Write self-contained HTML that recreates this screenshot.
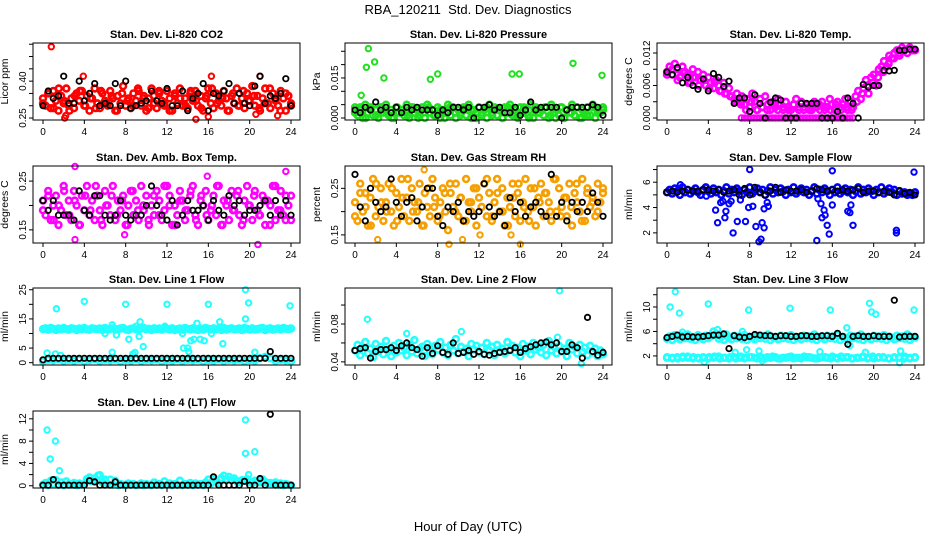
<!DOCTYPE html>
<html><head><meta charset="utf-8"><style>
html,body{margin:0;padding:0;background:#fff;}
svg{display:block;font-family:"Liberation Sans",Arial,sans-serif;}
</style></head><body>
<svg id="chart" width="936" height="540" viewBox="0 0 936 540" xmlns="http://www.w3.org/2000/svg">
<rect x="0" y="0" width="936" height="540" fill="#fff"/>
<text x="468" y="14" text-anchor="middle" font-size="13" xml:space="preserve">RBA_120211  Std. Dev. Diagnostics</text>
<text x="468" y="531" text-anchor="middle" font-size="13">Hour of Day (UTC)</text>
</svg>
<script>
const xTicks = [0,4,8,12,16,20,24];

const co2Cloud = [0.33,0.30,0.35,0.29,0.36,0.32,0.28,0.34,0.31,0.37,0.30,0.33,0.29,0.35,0.32,0.36,0.30,0.34,0.28,0.33,0.37,0.31,0.29,0.35,0.32,0.30,0.36,0.33,0.28,0.34,0.31,0.38,0.30,0.33,0.29,0.35,0.32,0.36,0.30,0.34,0.28,0.33,0.37,0.31,0.29,0.35,0.32,0.30,0.36,0.33,0.28,0.34,0.31,0.37,0.30,0.33,0.29,0.35,0.32,0.36,0.30,0.34,0.28,0.33,0.37,0.31,0.29,0.35,0.32,0.30,0.36,0.33,0.28,0.34,0.31,0.37,0.30,0.33,0.29,0.35,0.32,0.38,0.30,0.34,0.28,0.33,0.37,0.31,0.29,0.35,0.32,0.30,0.36,0.33,0.28,0.34,0.31];
const co2Cloud2 = [0.31,0.35,0.29,0.37,0.32,0.28,0.34,0.36,0.30,0.33,0.29,0.36,0.31,0.34,0.28,0.35,0.32,0.30,0.37,0.33,0.29,0.34,0.36,0.31,0.28,0.35,0.33,0.30,0.36,0.32,0.29,0.34,0.37,0.31,0.33,0.28,0.35,0.30,0.36,0.32,0.34,0.29,0.31,0.37,0.33,0.28,0.35,0.30];
const co2Out = [[0.8,0.54],[2.1,0.25],[2.2,0.26],[14.8,0.245],[16,0.255],[20.6,0.265],[22.7,0.26],[3.9,0.42],[16.3,0.42],[21,0.42]];
const co2Black = [0.30,0.36,0.33,0.34,0.42,0.31,0.31,0.40,0.32,0.35,0.39,0.30,0.31,0.30,0.39,0.30,0.40,0.29,0.30,0.31,0.32,0.36,0.32,0.31,0.37,0.30,0.30,0.36,0.28,0.33,0.35,0.39,0.28,0.35,0.34,0.36,0.39,0.31,0.35,0.31,0.30,0.38,0.42,0.31,0.34,0.33,0.35,0.41,0.30];

const presCloud = [0.004,0.001,0.003,0.000,0.005,0.002,0.004,0.001,0.003,0.000,0.004,0.002,0.005,0.001,0.003,0.000,0.004,0.002,0.003,0.001,0.005,0.000,0.004,0.002,0.003,0.001,0.004,0.000,0.005,0.002,0.003,0.001,0.004,0.000,0.003,0.002,0.005,0.001,0.004,0.000,0.003,0.002,0.004,0.001,0.005,0.000,0.003,0.002,0.004,0.001,0.003,0.000,0.005,0.002,0.004,0.001,0.003,0.000,0.004,0.002,0.005,0.001,0.003,0.000,0.004,0.002,0.003,0.001,0.005,0.000,0.004,0.002,0.003,0.001,0.004,0.000,0.005,0.002,0.003,0.001,0.004,0.000,0.003,0.002,0.005,0.001,0.004,0.000,0.003,0.002,0.004,0.001,0.005,0.000,0.003,0.002,0.004];
const presCloud2 = [0.002,0.004,0.000,0.003,0.001,0.004,0.002,0.000,0.004,0.003,0.001,0.004,0.000,0.002,0.004,0.001,0.003,0.000,0.004,0.002,0.001,0.004,0.003,0.000,0.002,0.004,0.001,0.003,0.000,0.004,0.002,0.001,0.004,0.000,0.003,0.002,0.004,0.001,0.000,0.004,0.003,0.002,0.004,0.000,0.001,0.004,0.002,0.003];
const presOut = [[1.1,0.019],[1.3,0.026],[1.9,0.021],[2.8,0.015],[0.6,0.0085],[7.3,0.0145],[8.0,0.0165],[15.2,0.0165],[15.9,0.0165],[21.1,0.0205],[23.9,0.016]];
const presBlack = [0.003,0.002,0.004,0.003,0.006,0.003,0.004,0.002,0.004,0.002,0.004,0.003,0.004,0.003,0.003,0.003,0.001,0.003,0.002,0.004,0.004,0.003,0.004,0.000,0.004,0.004,0.005,0.003,0.004,0.002,0.002,0.004,0.001,0.003,0.006,0.003,0.004,0.004,0.004,0.004,0.000,0.003,0.004,0.004,0.004,0.004,0.005,0.004,0.001];

const tempCloud = [0.0085,0.0095,0.0080,0.0100,0.0090,0.0075,0.0095,0.0085,0.0080,0.0065,0.0090,0.0075,0.0085,0.0070,0.0080,0.0060,0.0075,0.0065,0.0055,0.0070,0.0060,0.0050,0.0065,0.0045,0.0055,0.0040,0.0035,0.0045,0.0030,0.0040,0.0025,0.0035,0.0020,0.0045,0.0030,0.0015,0.0035,0.0020,0.0040,0.0025,0.0015,0.0030,0.0020,0.0035,0.0025,0.0015,0.0030,0.0020,0.0015,0.0025,0.0035,0.0020,0.0030,0.0015,0.0025,0.0020,0.0015,0.0030,0.0020,0.0025,0.0030,0.0015,0.0020,0.0035,0.0025,0.0015,0.0030,0.0020,0.0025,0.0035,0.0015,0.0030,0.0020,0.0040,0.0050,0.0035,0.0055,0.0070,0.0045,0.0075,0.0080,0.0060,0.0090,0.0095,0.0105,0.0095,0.0115,0.0110,0.0120,0.0125,0.0115,0.0130,0.0125,0.0120,0.0130,0.0125,0.0125];
const tempCloud2 = [0.0080,0.0090,0.0070,0.0085,0.0065,0.0075,0.0060,0.0070,0.0055,0.0065,0.0050,0.0045,0.0040,0.0030,0.0025,0.0015,0.0030,0.0015,0.0020,0.0015,0.0025,0.0015,0.0020,0.0015,0.0025,0.0015,0.0020,0.0015,0.0025,0.0015,0.0020,0.0015,0.0025,0.0015,0.0020,0.0015,0.0030,0.0045,0.0060,0.0065,0.0075,0.0085,0.0100,0.0110,0.0120,0.0125,0.0130,0.0125];
const tempZeroHours = [7.2,7.5,7.8,8.1,8.4,8.7,9.0,9.3,9.6,9.9,10.2,10.5,10.8,11.1,11.4,11.7,12.0,12.3,12.6,12.9,13.2,13.5,13.8,14.1,14.4,14.7,15.0,15.3,15.6,15.9,16.2,16.5,16.8,17.1,17.4,17.7,18.0];
const tempBlack = [0.0085,0.0080,0.0093,0.0065,0.0075,0.0060,0.0053,0.0072,0.0050,0.0082,0.0075,0.0058,0.0068,0.0027,0.0037,0.0037,0.0012,0.0043,0.0027,0.0000,0.0029,0.0037,0.0033,0.0000,0.0000,0.0000,0.0027,0.0027,0.0027,0.0027,0.0000,0.0000,0.0000,0.0012,0.0000,0.0037,0.0027,0.0000,0.0062,0.0057,0.0060,0.0060,0.0088,0.0087,0.0088,0.0125,0.0125,0.0127,0.0127];

const ambCloud = [0.21,0.18,0.23,0.17,0.20,0.22,0.16,0.19,0.24,0.18,0.21,0.17,0.23,0.20,0.16,0.22,0.19,0.24,0.18,0.21,0.17,0.22,0.19,0.16,0.23,0.20,0.18,0.24,0.17,0.21,0.19,0.22,0.16,0.20,0.23,0.18,0.21,0.17,0.24,0.19,0.22,0.16,0.20,0.18,0.23,0.21,0.17,0.19,0.24,0.22,0.16,0.20,0.18,0.23,0.21,0.17,0.19,0.22,0.24,0.18,0.16,0.21,0.20,0.23,0.17,0.19,0.22,0.18,0.24,0.16,0.21,0.20,0.17,0.23,0.19,0.22,0.18,0.16,0.21,0.24,0.20,0.17,0.23,0.19,0.18,0.22,0.16,0.21,0.20,0.24,0.17,0.19,0.23,0.18,0.22,0.20,0.17];
const ambCloud2 = [0.19,0.22,0.17,0.20,0.23,0.18,0.21,0.16,0.22,0.19,0.24,0.17,0.20,0.22,0.18,0.21,0.16,0.23,0.19,0.20,0.17,0.22,0.18,0.24,0.20,0.16,0.21,0.19,0.23,0.17,0.22,0.18,0.20,0.24,0.16,0.21,0.19,0.23,0.17,0.20,0.22,0.18,0.21,0.16,0.24,0.19,0.17,0.22];
const ambOut = [[3.1,0.28],[3.1,0.13],[7.9,0.14],[20.8,0.12],[23.5,0.27],[15.9,0.26]];
const ambBlack = [0.21,0.19,0.21,0.18,0.18,0.18,0.17,0.23,0.19,0.18,0.22,0.22,0.18,0.17,0.18,0.21,0.18,0.17,0.18,0.18,0.20,0.24,0.20,0.18,0.17,0.21,0.16,0.18,0.21,0.19,0.19,0.20,0.17,0.21,0.19,0.18,0.22,0.20,0.21,0.18,0.19,0.19,0.20,0.21,0.18,0.21,0.18,0.21,0.18];

const rhCloud = [0.22,0.18,0.26,0.20,0.24,0.17,0.23,0.27,0.19,0.21,0.25,0.18,0.22,0.26,0.20,0.17,0.24,0.21,0.27,0.19,0.23,0.18,0.25,0.22,0.20,0.26,0.17,0.24,0.21,0.19,0.27,0.23,0.18,0.22,0.25,0.20,0.16,0.24,0.21,0.26,0.19,0.23,0.18,0.27,0.22,0.20,0.25,0.17,0.23,0.21,0.26,0.19,0.24,0.18,0.22,0.27,0.20,0.25,0.17,0.23,0.21,0.26,0.19,0.24,0.18,0.22,0.27,0.20,0.25,0.21,0.17,0.23,0.26,0.19,0.24,0.22,0.18,0.27,0.20,0.25,0.21,0.23,0.19,0.26,0.17,0.24,0.22,0.20,0.27,0.18,0.25,0.21,0.23,0.19,0.26,0.22,0.24];
const rhCloud2 = [0.19,0.24,0.21,0.17,0.26,0.22,0.20,0.25,0.18,0.23,0.27,0.20,0.22,0.17,0.25,0.21,0.19,0.24,0.26,0.20,0.23,0.18,0.22,0.25,0.21,0.27,0.19,0.24,0.20,0.17,0.23,0.26,0.21,0.18,0.25,0.22,0.24,0.20,0.27,0.19,0.23,0.21,0.26,0.18,0.24,0.22,0.20,0.25];
const rhOut = [[6.7,0.29],[9.1,0.13],[10.4,0.14],[16,0.13],[2.2,0.14],[12.1,0.15],[15.1,0.15]];
const rhBlack = [0.28,0.21,0.18,0.25,0.22,0.20,0.21,0.27,0.22,0.19,0.22,0.23,0.18,0.21,0.25,0.25,0.19,0.17,0.21,0.20,0.22,0.18,0.20,0.19,0.20,0.26,0.21,0.19,0.20,0.17,0.23,0.20,0.22,0.19,0.21,0.22,0.20,0.19,0.28,0.19,0.22,0.18,0.22,0.20,0.22,0.20,0.24,0.22,0.19];

const flowCloud = [5.2,5.4,5.1,5.5,5.3,5.0,5.6,5.2,5.4,5.1,5.3,5.5,5.2,5.0,5.4,5.6,5.3,5.1,5.5,5.2,5.4,5.0,5.3,5.6,5.1,5.4,5.2,5.5,5.3,5.0,5.4,5.2,5.6,5.1,5.3,5.5,5.2,5.4,5.0,5.3,5.6,5.1,5.4,5.2,5.5,5.3,5.0,5.4,5.2,5.6,5.1,5.3,5.5,5.2,5.4,5.0,5.3,5.6,5.1,5.4,5.2,5.5,5.3,5.0,5.4,5.2,5.6,5.1,5.3,5.5,5.2,5.4,5.0,5.3,5.6,5.1,5.4,5.2,5.5,5.3,5.0,5.4,5.2,5.6,5.1,5.3,5.5,5.2,5.4,5.0,5.3,5.1,5.2,5.0,5.1,5.0,5.2];
const flowOut = [[4.7,3.8],[4.9,2.8],[5.2,4.4],[5.4,4.5],[5.7,3.7],[5.6,3.2],[6.0,4.3],[6.2,4.5],[6.4,2.0],[6.8,2.9],[7.1,4.6],[7.6,2.9],[7.9,4.0],[8.0,7.0],[8.3,4.1],[8.6,2.5],[8.9,1.3],[9.1,1.5],[9.2,2.8],[9.4,3.9],[9.4,2.4],[9.7,4.4],[9.8,4.1],[14.6,4.7],[14.5,1.4],[14.9,4.3],[15.0,3.2],[15.2,3.8],[15.3,3.4],[15.5,2.6],[15.7,1.9],[16.0,4.2],[16.0,6.9],[17.5,3.7],[17.7,3.6],[17.8,4.2],[18.0,2.6],[22.2,2.2],[22.2,2.0],[23.9,6.8],[1.3,5.8],[3.8,4.9]];
const flowBlack = [5.2,5.3,5.2,5.3,5.4,5.3,5.3,5.4,5.4,5.3,5.4,5.2,5.3,5.4,5.0,5.5,5.0,5.6,5.2,5.0,5.3,5.6,5.2,5.4,5.3,5.3,5.4,5.2,5.3,5.5,5.4,5.3,5.4,5.3,5.4,5.3,5.4,5.5,5.2,5.3,5.3,5.2,5.3,5.2,5.0,5.3,5.1,5.2,5.0];

const l1Cloud = [11.5,11.8,11.3,11.9,11.6,11.2,11.7,11.4,11.9,11.5,11.3,11.8,11.6,11.2,11.7,11.5,11.9,11.4,11.3,11.8,11.6,11.5,11.7,11.2,11.9,11.4,11.6,11.8,11.3,11.5,11.7,11.9,11.4,11.2,11.6,11.8,11.5,11.3,11.7,11.9,11.4,11.6,11.2,11.8,11.5,11.7,11.3,11.9,11.6,11.4,11.8,11.2,11.5,11.7,11.3,11.9,11.6,11.4,11.8,11.5,11.2,11.7,11.3,11.9,11.6,11.4,11.8,11.5,11.7,11.2,11.9,11.3,11.6,11.8,11.4,11.5,11.7,11.2,11.9,11.6,11.3,11.8,11.4,11.5,11.7,11.9,11.2,11.6,11.8,11.3,11.5,11.7,11.4,11.9,11.6,11.5,11.7];
const l1Low = [0.5,1.0,0.8,1.2,0.6,1.0,0.7,1.1,0.5,0.9,1.2,0.6,1.0,0.8,1.1,0.5,0.9,0.7,1.2,0.6,1.0,0.8,1.1,0.5,0.9,0.7,1.2,0.6,1.0,0.8,1.1,0.5,0.9,0.7,1.2,0.6,1.0,0.8,1.1,0.5,0.9,0.7,1.5,2.0,1.5,0.6,1.0,0.8,0.5];
const l1Out = [[0.4,3.3],[1.2,3],[1.3,18.5],[1.7,2.5],[4.0,21],[6.7,3.6],[6.7,13],[7.1,9.5],[8.0,20],[8.3,8],[8.7,3],[8.9,3.5],[9.0,12.5],[9.3,9],[9.4,14],[9.7,5.5],[12,20],[13.5,10],[13.6,5],[14,5],[14.1,3.8],[14.3,7.5],[14.6,8],[14.9,13.5],[15.2,8],[15.6,7.5],[16.0,20],[16.3,10],[17.1,14],[17.4,6.5],[19.6,15],[19.6,25],[19.9,20.5],[20.5,3.6],[23.9,19.5],[6.0,10],[11.8,12.5]];
const l1Black = [1.0,1.5,1.5,1.5,1.5,1.5,1.5,1.5,1.5,1.5,1.5,1.5,1.5,1.5,1.5,1.5,1.5,1.5,1.5,1.5,1.5,1.5,1.5,1.5,1.5,1.5,1.5,1.5,1.5,1.5,1.5,1.5,1.5,1.5,1.5,1.5,1.5,1.5,1.5,1.5,1.5,1.5,1.5,1.5,3.8,1.5,1.5,1.5,1.5];

const l2Cloud = [0.052,0.058,0.047,0.055,0.061,0.049,0.054,0.045,0.059,0.051,0.056,0.048,0.062,0.053,0.046,0.057,0.050,0.060,0.052,0.055,0.047,0.058,0.051,0.063,0.049,0.054,0.056,0.046,0.059,0.052,0.048,0.057,0.053,0.061,0.050,0.055,0.047,0.058,0.052,0.064,0.049,0.056,0.051,0.054,0.046,0.059,0.053,0.057,0.050,0.055,0.048,0.060,0.052,0.056,0.047,0.058,0.051,0.054,0.049,0.061,0.053,0.057,0.050,0.055,0.046,0.059,0.052,0.056,0.048,0.060,0.053,0.055,0.050,0.058,0.047,0.062,0.052,0.056,0.049,0.057,0.051,0.054,0.046,0.060,0.053,0.056,0.049,0.058,0.051,0.055,0.047,0.057,0.050,0.054,0.046,0.052,0.048];
const l2Out = [[1.2,0.085],[19.8,0.115],[21.9,0.038],[5.0,0.07],[10.3,0.072],[19.6,0.066]];
const l2Black = [0.052,0.054,0.055,0.044,0.051,0.053,0.053,0.055,0.052,0.057,0.060,0.055,0.053,0.046,0.055,0.049,0.057,0.050,0.048,0.060,0.049,0.050,0.052,0.048,0.051,0.048,0.047,0.049,0.050,0.051,0.052,0.055,0.050,0.054,0.056,0.058,0.060,0.061,0.058,0.060,0.051,0.051,0.058,0.055,0.044,0.087,0.051,0.047,0.050];

const l3Cloud = [4.8,5.2,4.6,5.4,5.0,4.7,5.3,4.9,5.5,4.8,5.1,4.6,5.4,5.0,4.7,5.3,4.9,5.2,6.0,5.6,4.8,5.1,4.6,5.5,5.0,4.7,5.3,4.9,5.2,4.8,5.4,4.6,5.1,5.0,4.7,5.3,4.9,5.2,4.8,5.5,4.6,5.1,5.0,4.7,5.3,4.9,5.2,4.8,5.4,4.6,5.1,5.0,4.7,5.3,4.9,5.2,4.8,5.5,4.6,5.1,5.0,4.7,5.3,4.9,5.2,4.8,5.4,4.6,5.1,5.0,4.7,5.3,4.9,5.2,4.8,5.5,4.6,5.1,5.0,4.7,5.3,4.9,5.2,4.8,5.4,4.6,5.1,5.0,4.7,5.3,4.9,5.2,4.8,5.5,4.6,5.1,5.0];
const l3Low = [1.7,1.6,1.8,1.7,1.9,1.6,1.7,1.8,1.6,1.7,1.9,1.7,1.6,1.8,1.7,1.6,1.8,1.7,1.9,1.6,1.7,1.8,1.6,1.7,1.9,1.7,1.6,1.8,1.7,1.6,1.8,1.7,1.9,1.6,1.7,1.8,1.6,1.7,1.9,1.7,1.6,1.8,1.7,1.6,1.8,1.7,1.9,1.6,1.7];
const l3Low2 = [1.8,1.7,1.6,1.9,1.7,1.8,1.6,1.7,1.8,1.9,1.6,1.7,1.8,1.6,1.9,1.7,1.8,1.6,1.7,1.8,1.9,1.6,1.7,1.8,1.6,1.7,1.9,1.8,1.6,1.7,1.8,1.6,1.7,1.9,1.8,1.6,1.7,1.8,1.6,1.9,1.7,1.8,1.6,1.7,1.8,1.6,1.7,1.8];
const l3Out = [[0.3,10],[0.8,12.5],[1.2,9],[4.0,10.5],[7.9,9.5],[11.9,9.8],[15.8,9.5],[19.6,10.6],[19.8,9.2],[20.2,8.8],[22.6,2.8],[23.9,9.5],[1.5,5.9],[4.9,6.3],[7.3,6.0],[17.7,3.7],[17.4,6.6],[6.6,2.6],[7.7,3.0],[8.9,2.8],[14.8,2.7],[19.2,2.6],[3.6,1.0],[9.2,1.2],[22.5,0.9]];
const l3Black = [5.0,5.2,5.4,5.1,5.2,5.1,5.1,5.2,5.3,5.4,5.4,5.6,3.2,5.3,5.1,5.0,5.2,5.5,5.4,5.3,5.3,5.2,5.3,5.3,5.2,5.2,5.3,5.3,5.2,5.2,5.3,5.3,5.2,5.7,5.2,3.9,5.2,5.3,5.2,5.2,5.3,5.2,5.2,5.2,11.1,5.1,5.2,5.2,5.2];

const l4Cloud = [0.2,0.5,0.1,0.9,0.3,1.0,0.2,0.6,0.1,0.8,0.3,0.2,0.5,0.1,0.4,0.2,0.3,1.2,1.5,0.8,1.3,1.0,1.9,0.6,0.9,0.3,1.1,0.2,0.7,0.1,0.3,0.2,0.1,0.4,0.2,0.3,0.1,0.2,0.4,0.1,0.3,0.2,0.1,0.6,0.2,0.3,0.1,0.8,0.2,0.4,0.1,0.3,0.2,0.9,0.1,0.3,0.2,0.5,0.1,0.4,0.2,0.3,0.1,0.6,1.1,0.4,1.2,0.8,0.5,1.4,1.8,1.2,1.6,1.0,1.3,0.8,0.6,1.0,0.9,1.2,0.7,0.5,0.9,0.8,0.6,1.1,0.7,0.4,0.5,0.3,0.6,0.2,0.4,0.1,0.3,0.2,0.1];
const l4Out = [[0.4,10],[0.7,4.8],[1.2,8],[1.6,2.7],[19.6,11.8],[19.6,5.8],[19.9,2],[20.5,6.1],[5.3,1.9],[6.0,1.2],[7.0,1.0]];
const l4Black = [0.1,0.1,1.1,0.1,0.1,0.1,0.1,0.1,0.1,0.9,0.7,0.1,0.1,0.1,0.7,0.1,0.1,0.1,0.1,0.1,0.1,0.1,0.1,0.1,0.1,0.1,0.1,0.1,0.1,0.1,0.1,0.1,0.1,1.6,0.1,0.1,0.1,0.1,0.1,0.8,0.1,0.1,1.3,0.1,12.8,0.1,0.1,0.1,0.1];

const NS = 'http://www.w3.org/2000/svg';
const svg = document.getElementById('chart');
function mk(tag, attrs, parent){
  const e = document.createElementNS(NS, tag);
  for (const k in attrs) e.setAttribute(k, attrs[k]);
  (parent||svg).appendChild(e);
  return e;
}
const colLeft = [33,345,657], rowTop = [43,166,288,411], W = 267, H = 77;

const panels = [
 {key:'co2', title:'Stan. Dev. Li-820 CO2', ylab:'Licor ppm', col:0,row:0, ymin:0.242, ymax:0.555, ticks:[0.25,0.30,0.35,0.40,0.45,0.50,0.55], labels:['0.25','0.40'], color:'#ff0000', clouds:[co2Cloud,co2Cloud2], out:co2Out, black:co2Black},
 {key:'pressure', title:'Stan. Dev. Li-820 Pressure', ylab:'kPa', col:1,row:0, ymin:-0.00075, ymax:0.0281, ticks:[0,0.005,0.010,0.015,0.020,0.025], labels:['0.000','0.015'], color:'#1ee01e', clouds:[presCloud,presCloud2], out:presOut, black:presBlack},
 {key:'temp', title:'Stan. Dev. Li-820 Temp.', ylab:'degrees C', col:2,row:0, ymin:-0.00037, ymax:0.01385, ticks:[0,0.003,0.006,0.009,0.012], labels:['0.000','0.006','0.012'], color:'#ff00ff', clouds:[tempCloud,tempCloud2], out:tempZeroHours.map(h=>[h,0]), black:tempBlack},
 {key:'ambtemp', title:'Stan. Dev. Amb. Box Temp.', ylab:'degrees C', col:0,row:1, ymin:0.123, ymax:0.281, ticks:[0.15,0.20,0.25], labels:['0.15','0.25'], color:'#ff00ff', clouds:[ambCloud,ambCloud2], out:ambOut, black:ambBlack},
 {key:'rh', title:'Stan. Dev. Gas Stream RH', ylab:'percent', col:1,row:1, ymin:0.1326, ymax:0.298, ticks:[0.15,0.20,0.25], labels:['0.15','0.25'], color:'#f5a000', clouds:[rhCloud,rhCloud2], out:rhOut, black:rhBlack},
 {key:'sampleflow', title:'Stan. Dev. Sample Flow', ylab:'ml/min', col:2,row:1, ymin:1.2, ymax:7.28, ticks:[2,3,4,5,6,7], labels:['2','4','6'], color:'#0000ff', clouds:[flowCloud], out:flowOut, black:flowBlack},
 {key:'line1', title:'Stan. Dev. Line 1 Flow', ylab:'ml/min', col:0,row:2, ymin:-0.8, ymax:25.6, ticks:[0,5,10,15,20,25], labels:['0','5','15','25'], color:'#22ffff', clouds:[l1Cloud,l1Low], out:l1Out, black:l1Black},
 {key:'line2', title:'Stan. Dev. Line 2 Flow', ylab:'ml/min', col:1,row:2, ymin:0.0367, ymax:0.118, ticks:[0.04,0.06,0.08,0.10], labels:['0.04','0.08'], color:'#22ffff', clouds:[l2Cloud], out:l2Out, black:l2Black},
 {key:'line3', title:'Stan. Dev. Line 3 Flow', ylab:'ml/min', col:2,row:2, ymin:0.52, ymax:13.1, ticks:[2,4,6,8,10,12], labels:['2','6','10'], color:'#22ffff', clouds:[l3Cloud,l3Low,l3Low2], out:l3Out, black:l3Black},
 {key:'line4', title:'Stan. Dev. Line 4 (LT) Flow', ylab:'ml/min', col:0,row:3, ymin:-0.4, ymax:13.4, ticks:[0,2,4,6,8,10,12], labels:['0','4','8','12'], color:'#22ffff', clouds:[l4Cloud], out:l4Out, black:l4Black}
];

panels.forEach(p => {
  const L = colLeft[p.col], T = rowTop[p.row], B = T + H;
  const g = mk('g', {});
  
  
  const xs = h => L + 10 + h / 24 * 248;
  const ys = v => B - (v - p.ymin) / (p.ymax - p.ymin) * H;

  const t = mk('text', {x: L + W/2, y: T - 5, 'text-anchor':'middle', 'font-size':'11', 'font-weight':'bold'}, g);
  t.textContent = p.title;
  
  

  const yl = mk('text', {x: 0, y: 0, 'text-anchor':'middle', 'font-size':'10.5', transform:`translate(${L-25},${T+H/2}) rotate(-90)`}, g);
  yl.textContent = p.ylab;
  
  

  const pts = mk('g', {fill:'none'}, g);
  
  
  const dot = (h, v, col, sw, r) => {
    const c = mk('circle', {cx: xs(h).toFixed(1), cy: ys(v).toFixed(1), r: r, stroke: col, 'stroke-width': sw}, pts);
    
    
  };
  p.clouds.forEach(arr => arr.forEach((v, i) => dot(i * 24 / (arr.length - 1), v, p.color, 2.6, 2.9)));
  p.out.forEach(o => dot(o[0], o[1], p.color, 2, 2.7));
  p.black.forEach((v, i) => dot(i * 24 / (p.black.length - 1), v, '#000', 1.8, 2.7));

  const box = mk('rect', {x: L, y: T, width: W, height: H, fill:'none', stroke:'#000', 'stroke-width':1}, g);
  
  

  const xa = mk('g', {}, g);
  
  
  mk('line', {x1: xs(0), x2: xs(24), y1: B, y2: B, stroke:'#000'}, xa);
  xTicks.forEach(h => {
    mk('line', {x1: xs(h), x2: xs(h), y1: B, y2: B + 4, stroke:'#000'}, xa);
    const tl = mk('text', {x: xs(h), y: B + 15, 'text-anchor':'middle', 'font-size':'10'}, xa);
    tl.textContent = h;
    
    
  });

  const ya = mk('g', {}, g);
  
  
  p.ticks.forEach(v => {
    mk('line', {x1: L - 4, x2: L, y1: ys(v), y2: ys(v), stroke:'#000'}, ya);
  });
  p.labels.forEach(s => {
    const tl = mk('text', {x: 0, y: 0, 'text-anchor':'middle', 'font-size':'10', transform:`translate(${L-7},${ys(parseFloat(s))}) rotate(-90)`}, ya);
    tl.textContent = s;
    
    
  });
});
</script>
</body></html>
